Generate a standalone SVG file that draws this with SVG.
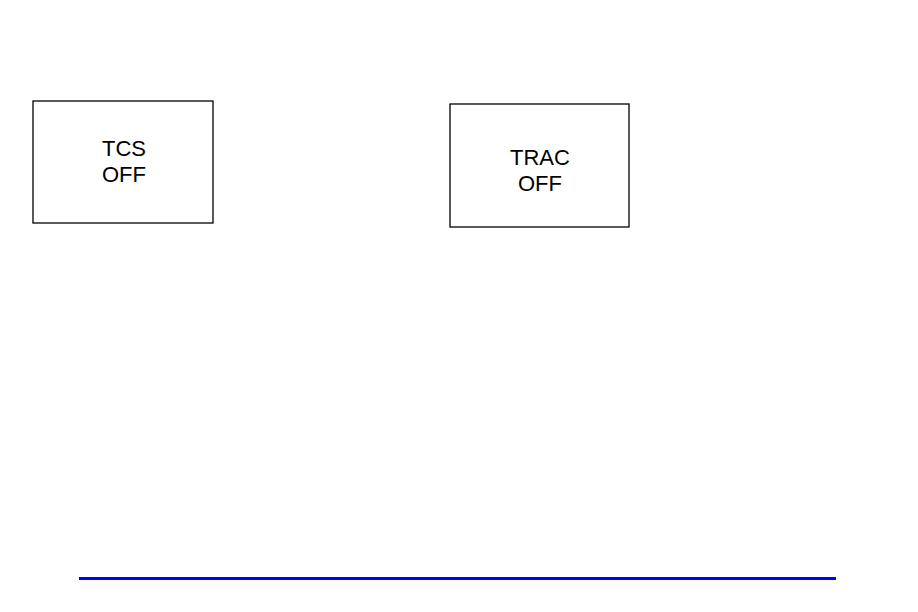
<svg xmlns="http://www.w3.org/2000/svg" width="918" height="612" viewBox="0 0 918 612">
<style>
.box{fill:#fff;stroke:#000;stroke-width:1.3}
.t{font-family:"Liberation Sans",Arial,sans-serif;font-size:22px;fill:#000;text-anchor:middle}
</style>
<rect width="918" height="612" fill="#fff"/>
<g id="tcs"><rect class="box" x="33" y="101" width="180" height="122"/>
<text class="t" x="124" y="156">TCS</text><text class="t" x="124" y="182">OFF</text></g>
<g id="trac"><rect class="box" x="450" y="104" width="179" height="123"/>
<text class="t" x="540" y="165">TRAC</text><text class="t" x="540" y="191">OFF</text></g>
<g id="connectors"><line x1="79" y1="578.5" x2="836" y2="578.5" stroke="#0000ff" stroke-width="3"/></g>
</svg>
